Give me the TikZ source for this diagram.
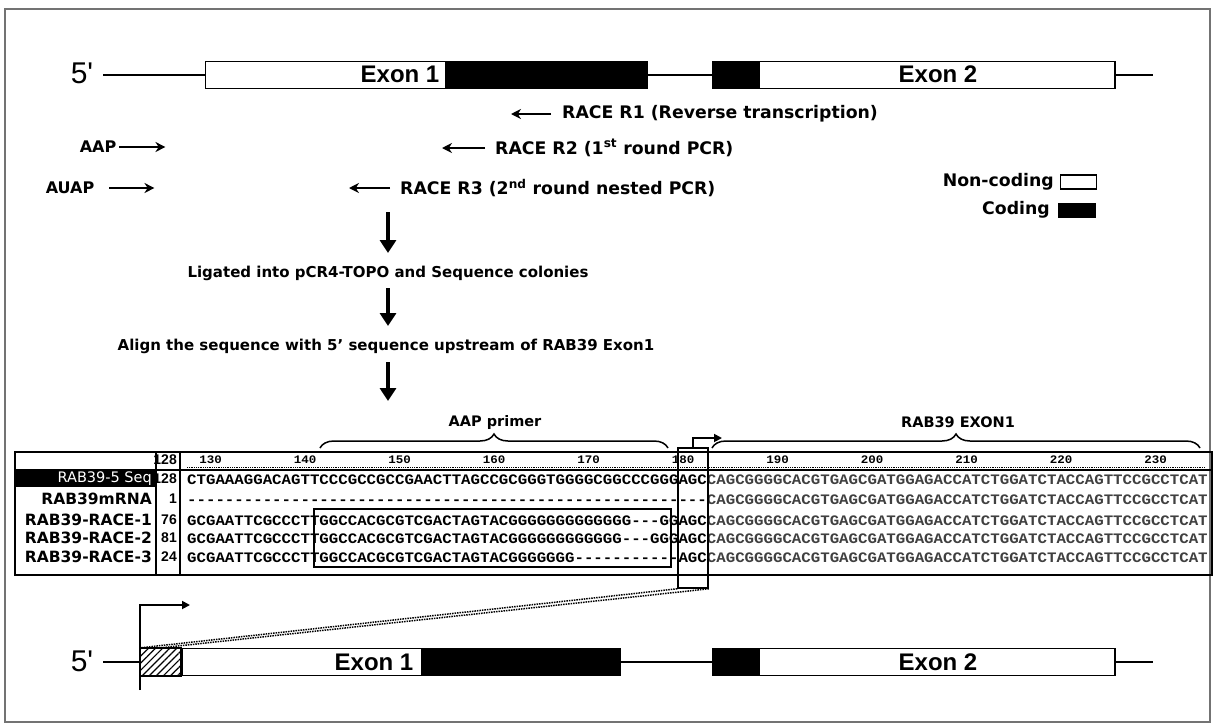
\documentclass[tikz,border=0pt]{standalone}
\usepackage{fontspec}
\setmainfont{DejaVu Sans}
\newfontfamily\arialfont{Liberation Sans}
\newfontfamily\seqfont[FakeStretch=1.086,Ligatures=TeXOff]{Liberation Mono}
\usetikzlibrary{arrows.meta,decorations.pathreplacing,patterns.meta}
\newcommand{\fsz}[1]{\fontsize{#1}{#1}\selectfont}
\begin{document}
\begin{tikzpicture}[x=1pt,y=-1pt,
  geneline/.style={line width=2pt},
  boxw/.style={draw, line width=1.3pt, fill=white, inner sep=0pt, minimum height=27pt, anchor=west},
  boxb/.style={draw, line width=1.3pt, fill=black, inner sep=0pt, minimum height=27pt, anchor=west},
  exonlbl/.style={font=\arialfont\bfseries\fsz{24}, inner sep=0pt},
  txt/.style={font=\bfseries\fsz{17.3}, inner sep=0pt},
  flowtxt/.style={font=\bfseries\fsz{15}, inner sep=0pt},
  primer/.style={line width=2.4pt, -{Stealth[length=10pt,width=10pt]}},
  bigdown/.style={line width=4.5pt, -{Triangle[length=13pt,width=16pt]}},
  bent/.style={line width=1.8pt, -{Triangle[length=8pt,width=8pt]}},
  rowlbl/.style={font=\bfseries\fsz{15.5}, inner sep=0pt, anchor=east},
  numlbl/.style={font=\arialfont\bfseries\fsz{14}, inner sep=0pt, anchor=east},
  seq/.style={font=\seqfont\bfseries\fsz{14.5}, inner sep=0pt, anchor=base west},
  ruler/.style={font=\seqfont\bfseries\fsz{11.5}, inner sep=0pt},
  bracestyle/.style={line width=1.5pt, decorate, decoration={brace, amplitude=14pt}},
  tbl/.style={line width=1.3pt},
]
\useasboundingbox (0,0) rectangle (1215,726);
\fill[white] (0,0) rectangle (1215,726);
\draw[black!55, line width=1.2pt] (5,9) rectangle (1210,722);

% ---------- top gene ----------
\coordinate (tL) at (103,75);
\coordinate (tR) at (1153,75);
\draw[geneline] (tL) -- (tR);
\node[font=\arialfont\fsz{30}, inner sep=0pt] (t5) at (82,73) {5'};
\node[boxw, minimum width=240pt] (te1w) at (205,75) {};
\node[boxb, minimum width=200pt] (te1b) at (te1w.east) {};
\node[boxb, minimum width=45pt] (te2b) at (712,75) {};
\node[boxw, minimum width=356pt] (te2w) at (te2b.east) {};
\node[exonlbl] (tx1) at (400,74) {Exon 1};
\node[exonlbl] (tx2) at (938,74) {Exon 2};

% ---------- primers ----------
\node[txt, anchor=west] (r1) at (562,114) {RACE R1 (Reverse transcription)};
\draw[primer] ([xshift=-11pt]r1.west) -- ++(-40,0);
\node[font=\bfseries\fsz{16}, inner sep=0pt] (aap) at (98,147) {AAP};
\draw[primer] ([xshift=3pt]aap.east) -- ++(46,0);
\node[txt, anchor=west] (r2) at (495,148) {RACE R2 (1\textsuperscript{st} round PCR)};
\draw[primer] ([xshift=-10pt]r2.west) -- ++(-43,0);
\node[font=\bfseries\fsz{16}, inner sep=0pt] (auap) at (70,188) {AUAP};
\draw[primer] ([xshift=15pt]auap.east) -- ++(45,0);
\node[txt, anchor=west] (r3) at (400,188) {RACE R3 (2\textsuperscript{nd} round nested PCR)};
\draw[primer] ([xshift=-10pt]r3.west) -- ++(-41,0);

% ---------- legend ----------
\node[txt, anchor=east] (nc) at (1054,182) {Non-coding};
\node[draw, line width=1.3pt, fill=white, minimum width=36pt, minimum height=14pt, inner sep=0pt, anchor=west] (ncbox) at (1060,182) {};
\node[txt, anchor=east] (cd) at (1050,210) {Coding};
\node[fill=black, minimum width=38pt, minimum height=15pt, inner sep=0pt, anchor=west] (cdbox) at (1058,210) {};

% ---------- flow ----------
\node[flowtxt] (lig) at (388,273) {Ligated into pCR4-TOPO and Sequence colonies};
\node[flowtxt] (aln) at (386,346) {Align the sequence with 5' sequence upstream of RAB39 Exon1};
\coordinate (d1s) at (388,212); \coordinate (d1e) at (388,253);
\coordinate (d2s) at (388,288); \coordinate (d2e) at (388,326);
\coordinate (d3s) at (388,362); \coordinate (d3e) at (388,401);
\draw[bigdown] (d1s) -- (d1e);
\draw[bigdown] (d2s) -- (d2e);
\draw[bigdown] (d3s) -- (d3e);

% ---------- braces ----------
\coordinate (b1a) at (320,448); \coordinate (b1b) at (668,448);
\coordinate (b2a) at (712,448); \coordinate (b2b) at (1200,448);
\draw[bracestyle] (b1a) -- (b1b);
\draw[bracestyle] (b2a) -- (b2b);
\node[font=\bfseries\fsz{14.5}, inner sep=0pt] (aapl) at (495,422) {AAP primer};
\node[font=\bfseries\fsz{14.5}, inner sep=0pt] (exl) at (958,422) {RAB39 EXON1};

% ---------- table ----------
\draw[tbl] (15,452) rectangle (1212,575);
\draw[tbl] (15,470) -- (1212,470);
\draw[line width=1.2pt] (156,452) -- (156,575);
\draw[line width=1.2pt] (180,452) -- (180,575);
\fill[black] (15,470) rectangle (156,487);
\node[rowlbl, text=white, font=\fsz{14.5}] (l1) at (152,479) {RAB39-5 Seq};
\node[rowlbl] (l2) at (152,499) {RAB39mRNA};
\node[rowlbl] (l3) at (152,520) {RAB39-RACE-1};
\node[rowlbl] (l4) at (152,538) {RAB39-RACE-2};
\node[rowlbl] (l5) at (152,557) {RAB39-RACE-3};
\node[numlbl] (n0) at (177,460) {128};
\node[numlbl] (n1) at (177,479) {128};
\node[numlbl] (n2) at (177,499) {1};
\node[numlbl] (n3) at (177,520) {76};
\node[numlbl] (n4) at (177,538) {81};
\node[numlbl] (n5) at (177,557) {24};
\foreach \p in {130,140,...,230} {
  \node[ruler] at ({187+(\p-128)*9.45+4.7},460) {\p};
}
\draw[densely dotted, line width=0.8pt] (187,467) -- (1205,467);

\node[seq] (s1) at (187,484) {CTGAAAGGACAGTTCCCGCCGCCGAACTTAGCCGCGGGTGGGGCGGCCCGGGAGC\textcolor{black!75}{CAGCGGGGCACGTGAGCGATGGAGACCATCTGGATCTACCAGTTCCGCCTCAT}};
\node[seq] (s2) at (187,504) {-------------------------------------------------------\textcolor{black!75}{CAGCGGGGCACGTGAGCGATGGAGACCATCTGGATCTACCAGTTCCGCCTCAT}};
\node[seq] (s3) at (187,525) {GCGAATTCGCCCTTGGCCACGCGTCGACTAGTACGGGGGGGGGGGGG---GGAGC\textcolor{black!75}{CAGCGGGGCACGTGAGCGATGGAGACCATCTGGATCTACCAGTTCCGCCTCAT}};
\node[seq] (s4) at (187,543) {GCGAATTCGCCCTTGGCCACGCGTCGACTAGTACGGGGGGGGGGGG---GGGAGC\textcolor{black!75}{CAGCGGGGCACGTGAGCGATGGAGACCATCTGGATCTACCAGTTCCGCCTCAT}};
\node[seq] (s5) at (187,562) {GCGAATTCGCCCTTGGCCACGCGTCGACTAGTACGGGGGGG-----------AGC\textcolor{black!75}{CAGCGGGGCACGTGAGCGATGGAGACCATCTGGATCTACCAGTTCCGCCTCAT}};

\node[draw, line width=1.5pt, minimum width=357pt, minimum height=58pt, inner sep=0pt, anchor=north west] (pbox) at (313,508) {};
\node[draw, line width=1.6pt, minimum width=30pt, minimum height=140pt, inner sep=0pt] (agc) at (693,518) {};
\coordinate (agcarr) at (722,438);
\draw[bent] (agc.north) |- (agcarr);

% ---------- bottom gene ----------
\coordinate (bL) at (103,662);
\coordinate (bR) at (1153,662);
\draw[geneline] (bL) -- (bR);
\node[font=\arialfont\fsz{30}, inner sep=0pt] (b5) at (82,661) {5'};
\node[boxw, minimum width=40pt] (hatch) at (140,662) {};
\fill[pattern={Lines[angle=45,distance=5pt,line width=1.2pt]}] (hatch.south west) rectangle (hatch.north east);
\draw[line width=1.3pt] (hatch.south west) rectangle (hatch.north east);
\node[boxw, minimum width=240pt] (be1w) at (hatch.east) {};
\node[boxb, minimum width=197pt] (be1b) at (be1w.east) {};
\node[boxb, minimum width=45pt] (be2b) at (712,662) {};
\node[boxw, minimum width=356pt] (be2w) at (be2b.east) {};
\node[exonlbl] (bx1) at (374,662) {Exon 1};
\node[exonlbl] (bx2) at (938,662) {Exon 2};
\coordinate (bstart) at (140,690);
\coordinate (bend) at (190,605);
\draw[bent] (bstart) |- (bend);
\draw[densely dotted, line width=1.5pt] (agc.south west) -- (hatch.north west);
\draw[densely dotted, line width=1.5pt] (agc.south east) -- (hatch.north);
\end{tikzpicture}
\end{document}
